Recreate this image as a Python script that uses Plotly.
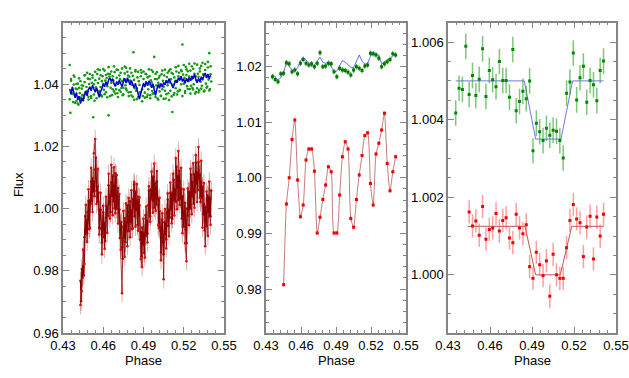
import plotly.graph_objs as go

# ---- panel 1: unbinned light curves ----
phase_1 = [
    0.4350, 0.4355, 0.4360, 0.4365, 0.4370, 0.4375, 0.4380, 0.4385, 0.4390, 0.4395,
    0.4400, 0.4405, 0.4410, 0.4415, 0.4420, 0.4425, 0.4430, 0.4435, 0.4440, 0.4445,
    0.4450, 0.4455, 0.4460, 0.4465, 0.4470, 0.4475, 0.4480, 0.4485, 0.4490, 0.4495,
    0.4500, 0.4505, 0.4510, 0.4515, 0.4520, 0.4525, 0.4530, 0.4535, 0.4540, 0.4545,
    0.4550, 0.4555, 0.4560, 0.4565, 0.4570, 0.4575, 0.4580, 0.4585, 0.4590, 0.4595,
    0.4600, 0.4605, 0.4610, 0.4615, 0.4620, 0.4625, 0.4630, 0.4635, 0.4640, 0.4645,
    0.4650, 0.4655, 0.4660, 0.4665, 0.4670, 0.4675, 0.4680, 0.4685, 0.4690, 0.4695,
    0.4700, 0.4705, 0.4710, 0.4715, 0.4720, 0.4725, 0.4730, 0.4735, 0.4740, 0.4745,
    0.4750, 0.4755, 0.4760, 0.4765, 0.4770, 0.4775, 0.4780, 0.4785, 0.4790, 0.4795,
    0.4800, 0.4805, 0.4810, 0.4815, 0.4820, 0.4825, 0.4830, 0.4835, 0.4840, 0.4845,
    0.4850, 0.4855, 0.4860, 0.4865, 0.4870, 0.4875, 0.4880, 0.4885, 0.4890, 0.4895,
    0.4900, 0.4905, 0.4910, 0.4915, 0.4920, 0.4925, 0.4930, 0.4935, 0.4940, 0.4945,
    0.4950, 0.4955, 0.4960, 0.4965, 0.4970, 0.4975, 0.4980, 0.4985, 0.4990, 0.4995,
    0.5000, 0.5005, 0.5010, 0.5015, 0.5020, 0.5025, 0.5030, 0.5035, 0.5040, 0.5045,
    0.5050, 0.5055, 0.5060, 0.5065, 0.5070, 0.5075, 0.5080, 0.5085, 0.5090, 0.5095,
    0.5100, 0.5105, 0.5110, 0.5115, 0.5120, 0.5125, 0.5130, 0.5135, 0.5140, 0.5145,
    0.5150, 0.5155, 0.5160, 0.5165, 0.5170, 0.5175, 0.5180, 0.5185, 0.5190, 0.5195,
    0.5200, 0.5205, 0.5210, 0.5215, 0.5220, 0.5225, 0.5230, 0.5235, 0.5240, 0.5245,
    0.5250, 0.5255, 0.5260, 0.5265, 0.5270, 0.5275, 0.5280, 0.5285, 0.5290, 0.5295,
    0.5300, 0.5305, 0.5310, 0.5315, 0.5320, 0.5325, 0.5330, 0.5335, 0.5340, 0.5345,
    0.5350, 0.5355, 0.5360, 0.5365, 0.5370, 0.5375, 0.5380, 0.5385, 0.5390, 0.5395,
    0.5400, 0.5405,
]

green_1a = [
    1.0462, 1.0308, 1.0411, 1.0372, 1.0383, 1.0343, 1.0399, 1.0424, 1.0365, 1.0386,
    1.0346, 1.0384, 1.0402, 1.0334, 1.0389, 1.0372, 1.0410, 1.0357, 1.0397, 1.0365,
    1.0395, 1.0357, 1.0407, 1.0430, 1.0368, 1.0391, 1.0378, 1.0418, 1.0351, 1.0401,
    1.0416, 1.0386, 1.0362, 1.0405, 1.0429, 1.0294, 1.0400, 1.0347, 1.0413, 1.0390,
    1.0384, 1.0433, 1.0404, 1.0373, 1.0418, 1.0446, 1.0391, 1.0365, 1.0410, 1.0426,
    1.0401, 1.0382, 1.0444, 1.0412, 1.0374, 1.0420, 1.0394, 1.0434, 1.0300, 1.0425,
    1.0433, 1.0389, 1.0405, 1.0365, 1.0426, 1.0412, 1.0377, 1.0439, 1.0396, 1.0384,
    1.0421, 1.0371, 1.0446, 1.0404, 1.0381, 1.0417, 1.0437, 1.0388, 1.0410, 1.0365,
    1.0389, 1.0417, 1.0435, 1.0397, 1.0453, 1.0380, 1.0410, 1.0428, 1.0374, 1.0424,
    1.0412, 1.0375, 1.0437, 1.0398, 1.0360, 1.0503, 1.0414, 1.0387, 1.0441, 1.0379,
    1.0387, 1.0422, 1.0358, 1.0410, 1.0398, 1.0375, 1.0426, 1.0437, 1.0383, 1.0362,
    1.0417, 1.0396, 1.0373, 1.0434, 1.0406, 1.0359, 1.0422, 1.0384, 1.0399, 1.0426,
    1.0365, 1.0413, 1.0406, 1.0378, 1.0440, 1.0391, 1.0371, 1.0417, 1.0433, 1.0396,
    1.0416, 1.0354, 1.0405, 1.0421, 1.0377, 1.0399, 1.0363, 1.0432, 1.0384, 1.0411,
    1.0392, 1.0428, 1.0379, 1.0354, 1.0410, 1.0423, 1.0397, 1.0371, 1.0443, 1.0406,
    1.0379, 1.0416, 1.0437, 1.0311, 1.0399, 1.0366, 1.0422, 1.0409, 1.0387, 1.0441,
    1.0410, 1.0377, 1.0426, 1.0437, 1.0382, 1.0419, 1.0400, 1.0442, 1.0528, 1.0431,
    1.0402, 1.0421, 1.0378, 1.0456, 1.0430, 1.0394, 1.0442, 1.0410, 1.0425, 1.0385,
    1.0444, 1.0395, 1.0416, 1.0388, 1.0450, 1.0400, 1.0434, 1.0370, 1.0425, 1.0412,
    1.0387, 1.0434, 1.0424, 1.0381, 1.0441, 1.0408, 1.0459, 1.0395, 1.0418, 1.0432,
    1.0429, 1.0380, 1.0446, 1.0402, 1.0423, 1.0393, 1.0454, 1.0415, 1.0500, 1.0385,
    1.0432, 1.0409,
]

# second set of green points, on every other phase of phase_1
green_1b = [
    1.0352, 1.0417, 1.0369, 1.0428, 1.0340, 1.0401, 1.0338, 1.0419, 1.0355, 1.0386,
    1.0348, 1.0428, 1.0375, 1.0437, 1.0360, 1.0433, 1.0356, 1.0421, 1.0367, 1.0440,
    1.0355, 1.0448, 1.0378, 1.0429, 1.0361, 1.0449, 1.0368, 1.0430, 1.0358, 1.0455,
    1.0362, 1.0441, 1.0384, 1.0458, 1.0370, 1.0447, 1.0359, 1.0428, 1.0376, 1.0451,
    1.0368, 1.0457, 1.0386, 1.0440, 1.0362, 1.0451, 1.0364, 1.0427, 1.0350, 1.0446,
    1.0352, 1.0440, 1.0371, 1.0446, 1.0345, 1.0441, 1.0357, 1.0432, 1.0366, 1.0448,
    1.0355, 1.0446, 1.0370, 1.0488, 1.0359, 1.0439, 1.0350, 1.0427, 1.0362, 1.0444,
    1.0353, 1.0447, 1.0368, 1.0437, 1.0349, 1.0448, 1.0361, 1.0433, 1.0372, 1.0455,
    1.0367, 1.0459, 1.0380, 1.0446, 1.0362, 1.0462, 1.0372, 1.0448, 1.0385, 1.0466,
    1.0370, 1.0458, 1.0383, 1.0467, 1.0375, 1.0463, 1.0374, 1.0451, 1.0386, 1.0469,
    1.0377, 1.0465, 1.0389, 1.0472, 1.0380, 1.0458,
]

blue_1 = [
    1.0385, 1.0368, 1.0392, 1.0371, 1.0356, 1.0374, 1.0349, 1.0362, 1.0338, 1.0355,
    1.0347, 1.0369, 1.0378, 1.0363, 1.0384, 1.0392, 1.0379, 1.0397, 1.0386, 1.0374,
    1.0388, 1.0369, 1.0358, 1.0377, 1.0386, 1.0401, 1.0392, 1.0408, 1.0397, 1.0414,
    1.0421, 1.0409, 1.0418, 1.0402, 1.0394, 1.0409, 1.0398, 1.0413, 1.0404, 1.0392,
    1.0407, 1.0419, 1.0404, 1.0421, 1.0410, 1.0398, 1.0412, 1.0401, 1.0389, 1.0403,
    1.0384, 1.0369, 1.0352, 1.0371, 1.0393, 1.0404, 1.0391, 1.0408, 1.0396, 1.0411,
    1.0404, 1.0389, 1.0402, 1.0381, 1.0364, 1.0385, 1.0399, 1.0387, 1.0402, 1.0391,
    1.0406, 1.0398, 1.0412, 1.0403, 1.0418, 1.0409, 1.0396, 1.0388, 1.0401, 1.0414,
    1.0405, 1.0421, 1.0412, 1.0426, 1.0409, 1.0417, 1.0403, 1.0419, 1.0408, 1.0422,
    1.0411, 1.0427, 1.0418, 1.0432, 1.0416, 1.0405, 1.0419, 1.0408, 1.0424, 1.0413,
    1.0429, 1.0436, 1.0421, 1.0433, 1.0418, 1.0429,
]

# red points start at phase 0.443 (index 16 of phase_1)
red_1a = [
    0.9768, 0.9702, 0.9806, 0.9778, 0.9815, 0.9785, 0.9908, 0.9976, 0.9918, 0.9962,
    0.9921, 0.9989, 1.0025, 0.9934, 1.0026, 1.0015, 1.0087, 1.0023, 1.0098, 1.0055,
    1.0088, 1.0040, 1.0125, 1.0164, 1.0057, 1.0072, 1.0022, 1.0052, 0.9938, 0.9997,
    0.9996, 0.9936, 0.9890, 0.9950, 0.9988, 0.9908, 0.9955, 0.9896, 0.9970, 1.0009,
    0.9984, 0.9976, 1.0075, 1.0014, 1.0043, 0.9988, 1.0085, 1.0041, 1.0106, 1.0024,
    1.0076, 1.0001, 1.0114, 1.0043, 0.9999, 1.0043, 1.0066, 0.9987, 0.9997, 0.9905,
    0.9950, 0.9957, 0.9875, 0.9839, 0.9942, 0.9906, 0.9969, 0.9892, 0.9956, 0.9927,
    1.0011, 0.9957, 0.9928, 0.9988, 1.0024, 0.9956, 0.9995, 0.9934, 1.0032, 1.0005,
    1.0078, 0.9975, 1.0055, 0.9996, 1.0027, 0.9947, 1.0038, 0.9977, 1.0011, 0.9900,
    0.9925, 0.9846, 0.9939, 0.9885, 0.9923, 0.9857, 0.9920, 0.9979, 0.9913, 0.9960,
    0.9920, 1.0011, 1.0058, 0.9992, 0.9975, 1.0061, 1.0030, 1.0102, 1.0025, 1.0103,
    1.0003, 1.0082, 1.0061, 1.0013, 1.0087, 1.0033, 1.0029, 0.9937, 0.9992, 0.9929,
    0.9859, 0.9941, 0.9964, 0.9893, 0.9853, 0.9956, 0.9918, 0.9955, 0.9901, 0.9987,
    1.0029, 0.9944, 0.9996, 0.9971, 1.0051, 0.9997, 1.0051, 0.9967, 1.0049, 1.0093,
    1.0027, 1.0061, 1.0022, 1.0135, 1.0067, 1.0105, 1.0027, 1.0122, 1.0087, 1.0032,
    1.0064, 0.9968, 1.0040, 0.9986, 0.9942, 0.9989, 1.0019, 0.9933, 0.9889, 1.0000,
    0.9978, 1.0054, 0.9999, 1.0054, 1.0000, 1.0110, 1.0039, 1.0086, 1.0058, 1.0016,
    1.0111, 1.0053, 1.0148, 1.0079, 1.0116, 1.0059, 1.0150, 1.0096, 1.0110, 1.0021,
    1.0087, 1.0035, 1.0071, 0.9981, 1.0013, 0.9930, 1.0006, 0.9962, 0.9943, 1.0044,
    0.9989, 1.0038, 0.9975, 1.0035, 0.9975, 1.0058,
]

# second set of red points, on every other phase from 0.443
red_1b = [
    0.9690, 0.9734, 0.9868, 0.9822, 1.0012, 0.9893, 1.0062, 0.9938, 1.0131, 0.9989,
    1.0178, 1.0224, 1.0015, 1.0128, 0.9917, 1.0051, 0.9853, 1.0009, 0.9871, 1.0038,
    0.9922, 1.0112, 0.9968, 1.0141, 0.9979, 1.0133, 0.9985, 1.0108, 0.9952, 1.0047,
    0.9868, 0.9728, 0.9992, 0.9845, 1.0017, 0.9879, 1.0034, 0.9908, 1.0059, 0.9936,
    1.0086, 0.9942, 1.0079, 0.9929, 1.0036, 0.9838, 0.9812, 0.9968, 0.9842, 1.0007,
    0.9891, 1.0072, 0.9958, 1.0119, 0.9987, 1.0145, 0.9993, 1.0121, 0.9946, 1.0035,
    0.9834, 0.9985, 0.9773, 0.9999, 0.9872, 1.0049, 0.9911, 1.0084, 0.9953, 1.0112,
    0.9978, 1.0163, 0.9998, 1.0185, 1.0012, 1.0131, 0.9921, 1.0062, 0.9889, 0.9831,
    1.0065, 0.9947, 1.0128, 0.9982, 1.0146, 1.0003, 1.0172, 1.0021, 1.0198, 1.0035,
    1.0154, 0.9939, 1.0082, 0.9879, 1.0055, 0.9912, 1.0087, 0.9948,
]

# ---- panels 2 and 3: binned light curves ----
phase_bin = [
    0.4355, 0.4379, 0.4403, 0.4427, 0.4451, 0.4475, 0.4499, 0.4523, 0.4547, 0.4571,
    0.4595, 0.4619, 0.4643, 0.4667, 0.4691, 0.4715, 0.4739, 0.4763, 0.4787, 0.4811,
    0.4835, 0.4859, 0.4883, 0.4907, 0.4931, 0.4955, 0.4979, 0.5003, 0.5027, 0.5051,
    0.5075, 0.5099, 0.5123, 0.5147, 0.5171, 0.5195, 0.5219, 0.5243, 0.5267, 0.5291,
    0.5315, 0.5339, 0.5363, 0.5387, 0.5411,
]

green_2 = [
    1.0182, 1.0177, 1.0173, 1.0187, 1.0188, 1.0207, 1.0205, 1.0191, 1.0194, 1.0187,
    1.0206, 1.0213, 1.0206, 1.0203, 1.0205, 1.0200, 1.0206, 1.0225, 1.0200, 1.0201,
    1.0206, 1.0205, 1.0191, 1.0182, 1.0197, 1.0194, 1.0193, 1.0190, 1.0185, 1.0194,
    1.0200, 1.0197, 1.0193, 1.0201, 1.0203, 1.0224, 1.0223, 1.0221, 1.0215, 1.0200,
    1.0205, 1.0209, 1.0213, 1.0223, 1.0221,
]

blue_2 = [
    1.0187, 1.0182, 1.0176, 1.0180, 1.0190, 1.0207, 1.0200, 1.0194, 1.0192, 1.0198,
    1.0210, 1.0217, 1.0212, 1.0205, 1.0200, 1.0203, 1.0210, 1.0217, 1.0208, 1.0206,
    1.0208, 1.0200, 1.0191, 1.0192, 1.0203, 1.0211, 1.0208, 1.0203, 1.0199, 1.0198,
    1.0210, 1.0221, 1.0210, 1.0204, 1.0206, 1.0218, 1.0225, 1.0222, 1.0221, 1.0205,
    1.0208, 1.0212, 1.0214, 1.0220, 1.0222,
]

# red bins start at the fifth phase bin
red_2 = [
    0.9808, 0.9953, 1.0000, 1.0069, 1.0104, 0.9996, 0.9930, 0.9951, 1.0032, 1.0052,
    1.0052, 1.0012, 0.9901, 0.9929, 0.9961, 0.9987, 1.0020, 1.0011, 0.9901, 0.9901,
    0.9969, 1.0038, 1.0065, 1.0052, 0.9927, 0.9911, 0.9961, 1.0005, 1.0040, 1.0076,
    1.0081, 0.9990, 0.9951, 1.0043, 1.0062, 1.0086, 1.0116, 1.0026, 0.9977, 1.0011,
    1.0038,
]

green_3 = [
    1.00417, 1.00481, 1.00478, 1.00589, 1.00465, 1.00514, 1.00462, 1.00504, 1.00583, 1.00460,
    1.00527, 1.00503, 1.00485, 1.00550, 1.00501, 1.00501, 1.00458, 1.00581, 1.00423, 1.00447,
    1.00473, 1.00454, 1.00500, 1.00320, 1.00391, 1.00369, 1.00346, 1.00378, 1.00360, 1.00373,
    1.00370, 1.00346, 1.00301, 1.00468, 1.00497, 1.00572, 1.00451, 1.00508, 1.00538, 1.00445,
    1.00501, 1.00490, 1.00449, 1.00527, 1.00551,
]

red_3 = [
    1.00162, 1.00126, 1.00139, 1.00102, 1.00176, 1.00092, 1.00117, 1.00121, 1.00158, 1.00113,
    1.00140, 1.00147, 1.00095, 1.00083, 1.00156, 1.00121, 1.00106, 1.00129, 1.00021, 0.99991,
    1.00058, 1.00026, 0.99998, 1.00036, 0.99945, 1.00053, 1.00000, 0.99991, 0.99991, 1.00070,
    1.00140, 1.00181, 1.00144, 1.00134, 1.00047, 1.00123, 1.00151, 1.00041, 1.00149, 1.00100,
    1.00156,
]

# transit models (contact points)
model_phase_green = [0.4355, 0.4845, 0.4926, 0.5107, 0.5190, 0.5411]
model_green = [1.0050, 1.0050, 1.0035, 1.0035, 1.0050, 1.0050]
model_phase_red = [0.4440, 0.4850, 0.4926, 0.5102, 0.5184, 0.5411]
model_red = [1.00125, 1.00125, 1.0000, 1.0000, 1.00125, 1.00125]

FONT = 'Liberation Sans, Arial, Helvetica, sans-serif'
FRAME = '#858585'


def scatter(xax, yax, **kw):
    options = dict(xaxis=xax, yaxis=yax, showlegend=False, hoverinfo='skip')
    options.update(kw)
    return go.Scatter(options)


red_start = phase_1[16:]

data = [
    # panel 1
    scatter('x', 'y', x=phase_1, y=green_1a, mode='markers',
            marker=dict(color='#119911', size=2.6)),
    scatter('x', 'y', x=phase_1[::2], y=green_1b, mode='markers',
            marker=dict(color='#119911', size=2.6)),
    scatter('x', 'y', x=phase_1[::2], y=blue_1, mode='lines',
            line=dict(color='#0000cc', width=1.5)),
    scatter('x', 'y', x=red_start, y=red_1a, mode='markers',
            marker=dict(color='#ee0000', size=2.6)),
    scatter('x', 'y', x=red_start[::2], y=red_1b, mode='lines',
            line=dict(color='rgba(139,0,0,0.75)', width=1),
            error_y=dict(type='constant', value=0.003, color='rgba(150,40,40,0.35)',
                         thickness=1, width=0)),
    scatter('x', 'y', x=red_start, y=red_1a, mode='lines',
            line=dict(color='#8b0000', width=1.2),
            error_y=dict(type='constant', value=0.003, color='rgba(150,40,40,0.45)',
                         thickness=1, width=0)),
    scatter('x', 'y', x=red_start[::2], y=red_1b, mode='markers',
            marker=dict(color='#ee0000', size=2.6)),

    # panel 2
    scatter('x2', 'y2', x=phase_bin, y=blue_2, mode='lines',
            line=dict(color='rgba(70,70,255,0.8)', width=1)),
    scatter('x2', 'y2', x=phase_bin, y=green_2, mode='markers',
            marker=dict(color='#007700', size=3, symbol='square'),
            error_y=dict(type='constant', value=0.0005, color='#229922',
                         thickness=1, width=0)),
    scatter('x2', 'y2', x=phase_bin[4:], y=red_2, mode='lines+markers',
            line=dict(color='rgba(170,70,70,0.7)', width=1, shape='spline', smoothing=0.6),
            marker=dict(color='#ee0000', size=3, symbol='square'),
            error_y=dict(type='constant', value=0.0004, color='rgba(255,90,90,0.5)',
                         thickness=1.5, width=0)),

    # panel 3
    scatter('x3', 'y3', x=model_phase_green, y=model_green, mode='lines',
            line=dict(color='rgba(90,90,240,0.85)', width=1)),
    scatter('x3', 'y3', x=phase_bin, y=green_3, mode='markers',
            marker=dict(color='#008800', size=3, symbol='square'),
            error_y=dict(type='constant', value=0.00033, color='rgba(40,160,40,0.6)',
                         thickness=1.5, width=0)),
    scatter('x3', 'y3', x=model_phase_red, y=model_red, mode='lines',
            line=dict(color='rgba(170,60,60,0.85)', width=1)),
    scatter('x3', 'y3', x=phase_bin[4:], y=red_3, mode='markers',
            marker=dict(color='#ee0000', size=3, symbol='square'),
            error_y=dict(type='constant', value=0.0003, color='rgba(255,80,80,0.55)',
                         thickness=1.5, width=0)),
]


def x_axis(domain, anchor):
    return dict(
        domain=domain, anchor=anchor, range=[0.43, 0.55], automargin=False,
        tickvals=[0.43, 0.46, 0.49, 0.52, 0.55], tickformat='.2f',
        showline=True, linecolor=FRAME, linewidth=1.5, mirror='allticks',
        ticks='inside', ticklen=6, tickcolor=FRAME, tickwidth=1,
        minor=dict(ticks='inside', ticklen=3, tickcolor=FRAME, dtick=0.006, tick0=0.43),
        showgrid=False, zeroline=False,
        tickfont=dict(family=FONT, size=13, color='black'),
    )


def y_axis(domain, anchor, rng, vals, fmt, minor_step):
    return dict(
        domain=domain, anchor=anchor, range=rng, automargin=False,
        tickvals=vals, tickformat=fmt,
        showline=True, linecolor=FRAME, linewidth=1.5, mirror='allticks',
        ticks='inside', ticklen=6, tickcolor=FRAME, tickwidth=1,
        minor=dict(ticks='inside', ticklen=3, tickcolor=FRAME, dtick=minor_step, tick0=0.96),
        showgrid=False, zeroline=False,
        tickfont=dict(family=FONT, size=13, color='black'),
    )


W, H = 629, 378
ydom = [45 / H, 355.3 / H]
dom1 = [63 / W, 224 / W]
dom2 = [266 / W, 406 / W]
dom3 = [448 / W, 616 / W]

annotations = [
    dict(text='Phase', x=(d[0] + d[1]) / 2, y=18 / H, xref='paper', yref='paper',
         xanchor='center', yanchor='middle', showarrow=False,
         font=dict(family=FONT, size=13, color='black'))
    for d in (dom1, dom2, dom3)
]
annotations.append(dict(text='Flux', x=18 / W, y=193 / H, xref='paper', yref='paper',
                        xanchor='center', yanchor='middle', textangle=-90, showarrow=False,
                        font=dict(family=FONT, size=13, color='black')))

layout = go.Layout(
    width=W, height=H,
    margin=dict(l=0, r=0, t=0, b=0),
    paper_bgcolor='white', plot_bgcolor='white',
    font=dict(family=FONT, size=13, color='black'),
    xaxis=x_axis(dom1, 'y'),
    xaxis2=x_axis(dom2, 'y2'),
    xaxis3=x_axis(dom3, 'y3'),
    yaxis=y_axis(ydom, 'x', [0.96, 1.0598], [0.96, 0.98, 1.00, 1.02, 1.04], '.2f', 0.005),
    yaxis2=y_axis(ydom, 'x2', [0.9721, 1.0279], [0.98, 0.99, 1.00, 1.01, 1.02], '.2f', 0.002),
    yaxis3=y_axis(ydom, 'x3', [0.9985, 1.0065], [1.000, 1.002, 1.004, 1.006], '.3f', 0.0005),
    annotations=annotations,
)

fig = go.Figure(data=data, layout=layout)
# drop the page's default body margin so the figure sits at the window's corner
fig.write_html('out.html', config={'displayModeBar': False},
               post_script="document.body.style.margin='0px';")
